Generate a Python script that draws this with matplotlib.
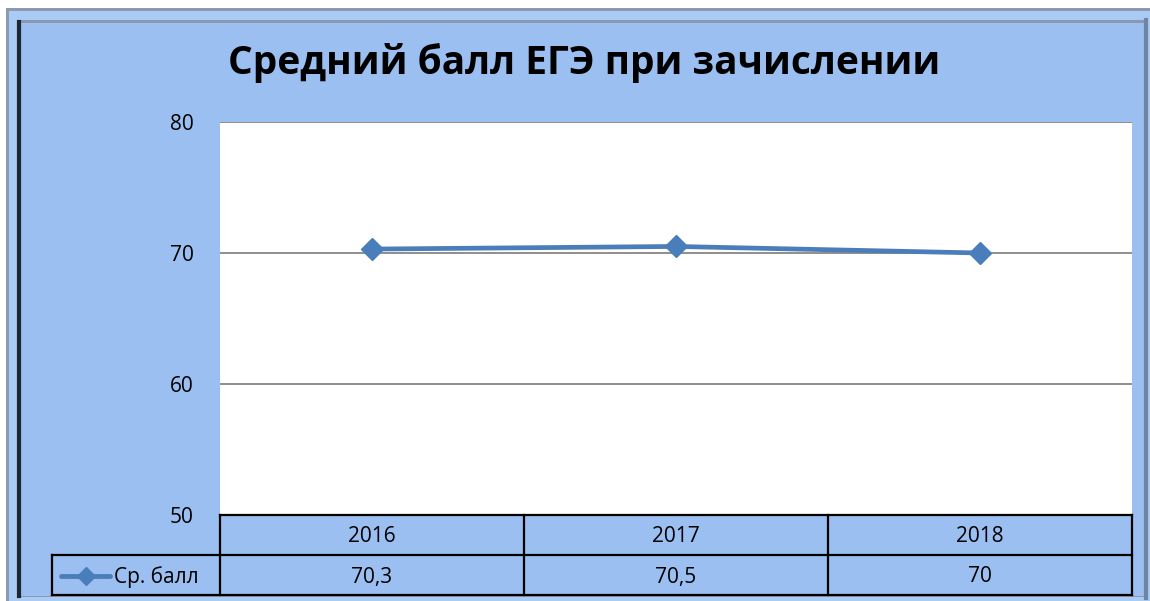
import matplotlib.pyplot as plt
from matplotlib.patches import Rectangle
from matplotlib.lines import Line2D

years = ['2016', '2017', '2018']
scores = [70.3, 70.5, 70.0]
score_labels = ['70,3', '70,5', '70']
series_name = 'Ср. балл'
title = 'Средний балл ЕГЭ при зачислении'
yticks = [50, 60, 70, 80]

W, H = 1150, 601
bg = '#9BBFF0'
line_c = '#4A7EBB'

plt.rcParams['font.family'] = ['Open Sans', 'DejaVu Sans']

fig = plt.figure(figsize=(W / 100, H / 100), dpi=100)
fig.patch.set_facecolor('white')


def px(x, y):
    # pixel coords (from top-left) -> figure fraction
    return x / W, 1 - y / H


def rect(x0, y0, x1, y1, **kw):
    (fx0, fy1), (fx1, fy0) = px(x0, y0), px(x1, y1)
    fig.add_artist(Rectangle((fx0, fy0), fx1 - fx0, fy1 - fy0,
                             transform=fig.transFigure, zorder=-5, **kw))


def hline(x0, x1, y, **kw):
    fig.add_artist(Line2D([x0 / W, x1 / W], [1 - y / H, 1 - y / H],
                          transform=fig.transFigure, **kw))


def vline(x, y0, y1, **kw):
    fig.add_artist(Line2D([x / W, x / W], [1 - y0 / H, 1 - y1 / H],
                          transform=fig.transFigure, **kw))


# frame
rect(6, 8, 1150, 601, facecolor='#8C9AAE', edgecolor='none')
rect(9, 11, 1150, 601, facecolor='#A9CBF5', edgecolor='none')
rect(17, 20, 1144, 597, facecolor='#8A99AD', edgecolor='none')
rect(21, 23, 1144, 596, facecolor=bg, edgecolor='none')
vline(19, 22, 596, color='#1E2630', lw=3, zorder=-4)
vline(1146, 20, 598, color='#6E84A3', lw=3, zorder=-4)

# plot area
ax = fig.add_axes([220 / W, 1 - 515 / H, 912 / W, 393 / H])
ax.set_zorder(1)
ax.set_facecolor('white')
x = list(range(len(years)))
ax.plot(x, scores, color=line_c, lw=3.4, marker='D', markersize=11.5,
        markerfacecolor=line_c, markeredgecolor=line_c, zorder=3)
ax.set_xlim(-0.5, len(years) - 0.5)
ax.set_ylim(50, 80)
ax.set_yticks(yticks)
ax.yaxis.grid(True, color='#868686', lw=1.3)
ax.set_axisbelow(True)
ax.tick_params(axis='y', length=0, pad=19, labelsize=15)
ax.set_xticks([])
for s in ax.spines.values():
    s.set_visible(False)

fig.text(584 / W, 1 - 63 / H, title, ha='center', va='center',
         fontsize=28, fontweight='bold', color='black')

# data table below the axis
col_w = 912 / len(years)
for i, (yr, lab) in enumerate(zip(years, score_labels)):
    cx = 220 + col_w * (i + 0.5)
    fig.text(cx / W, 1 - 537 / H, yr, ha='center', va='center', fontsize=15)
    fig.text(cx / W, 1 - 577 / H, lab, ha='center', va='center', fontsize=15)

lw_t = 1.6
hline(220, 1132, 515, color='black', lw=lw_t, zorder=2)
hline(52, 1132, 555, color='black', lw=lw_t, zorder=2)
hline(52, 1132, 595, color='black', lw=lw_t, zorder=2)
vline(52, 555, 595, color='black', lw=lw_t, zorder=2)
for i in range(len(years) + 1):
    vline(220 + col_w * i, 515, 595, color='black', lw=lw_t, zorder=2)

# legend key in the table
hline(61, 110, 576, color=line_c, lw=3.5, solid_capstyle='round', zorder=2)
fig.add_artist(Line2D([86 / W], [1 - 576 / H], marker='D', markersize=9,
                      color=line_c, transform=fig.transFigure, zorder=2))
fig.text(114 / W, 1 - 577 / H, series_name, ha='left', va='center', fontsize=15)

fig.savefig('out.png', dpi=100, facecolor=fig.get_facecolor())
